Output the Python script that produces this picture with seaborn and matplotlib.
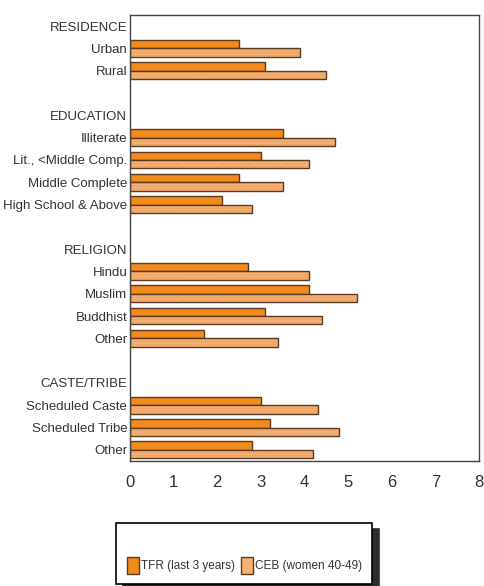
import matplotlib
matplotlib.use("Agg")
import matplotlib.pyplot as plt
import matplotlib.patches as mpatches
import matplotlib.colors as mcolors
import pandas as pd
import seaborn as sns

# data
groups = ["RESIDENCE", "EDUCATION", "RELIGION", "CASTE/TRIBE"]
residence = ["Urban", "Rural"]
education = ["Illiterate", "Lit., <Middle Comp.", "Middle Complete", "High School & Above"]
religion = ["Hindu", "Muslim", "Buddhist", "Other"]
caste = ["Scheduled Caste", "Scheduled Tribe", "Other"]
tfr = [2.5, 3.1, 3.5, 3.0, 2.5, 2.1, 2.7, 4.1, 3.1, 1.7, 3.0, 3.2, 2.8]
ceb = [3.9, 4.5, 4.7, 4.1, 3.5, 2.8, 4.1, 5.2, 4.4, 3.4, 4.3, 4.8, 4.2]
series = ["TFR (last 3 years)", "CEB (women 40-49)"]
xticks = [0, 1, 2, 3, 4, 5, 6, 7, 8]

tfr_color = "#F28A1C"
ceb_color = "#F6B274"
edge_color = "#5a3b20"

# rows: header, items, blank spacer between groups
keys, labels, records = [], [], []
i = 0
for g, (gname, cats) in enumerate(zip(groups, [residence, education, religion, caste])):
    if g > 0:
        keys.append("gap%d" % g)
        labels.append("")
    keys.append(gname)
    labels.append(gname)
    for c in cats:
        k = gname + ":" + c
        keys.append(k)
        labels.append(c)
        records.append((k, series[0], tfr[i]))
        records.append((k, series[1], ceb[i]))
        i += 1
df = pd.DataFrame(records, columns=["row", "series", "value"])

sns.set_style("white")
plt.rcParams["font.family"] = ["Liberation Sans", "DejaVu Sans"]
plt.rcParams["hatch.linewidth"] = 0.6

fig = plt.figure(figsize=(4.85, 5.86), dpi=100)
ax = fig.add_axes([130 / 485, 1 - 461 / 586, 349 / 485, 446 / 586])

sns.barplot(
    data=df, x="value", y="row", hue="series", order=keys, hue_order=series,
    palette=[tfr_color, ceb_color], saturation=1, width=0.75, orient="h",
    errorbar=None, edgecolor=edge_color, linewidth=1.0, legend=False, ax=ax
)

# dotted texture on the CEB bars
for p in ax.containers[1]:
    p.set_hatch("......")
    p._hatch_color = mcolors.to_rgba("#E39450")

ax.set_xlim(0, 8)
ax.set_xticks(xticks)
ax.set_xticklabels([str(t) for t in xticks])
ax.set_yticks(range(len(keys)))
ax.set_yticklabels(labels)
ax.set_xlabel("")
ax.set_ylabel("")
ax.tick_params(axis="both", length=0, labelcolor="#333333")
ax.tick_params(axis="x", pad=10, labelsize=12)
ax.tick_params(axis="y", pad=2, labelsize=9.5)
for s in ax.spines.values():
    s.set_visible(True)
    s.set_color("#444444")
    s.set_linewidth(1.0)

h1 = mpatches.Patch(facecolor=tfr_color, edgecolor=edge_color, linewidth=1.0)
h2 = mpatches.Patch(facecolor=ceb_color, edgecolor=edge_color, linewidth=1.0)
leg = fig.legend(
    [h1, h2], series, loc="lower center", bbox_to_anchor=(0.504, 0.003),
    ncol=2, title=" ", title_fontsize=14, fontsize=8.5, frameon=True,
    fancybox=False, edgecolor="black", framealpha=1, borderaxespad=0,
    shadow={"ox": 4.5, "oy": -4.5, "facecolor": "#2b2b2b", "edgecolor": "#2b2b2b", "alpha": 1},
    handlelength=1.0, handleheight=1.85, handletextpad=0.15,
    columnspacing=0.55, borderpad=0.9
)
for t in leg.get_texts():
    t.set_color("#333333")
leg.get_frame().set_linewidth(1.2)

fig.savefig("out.png", dpi=100)
